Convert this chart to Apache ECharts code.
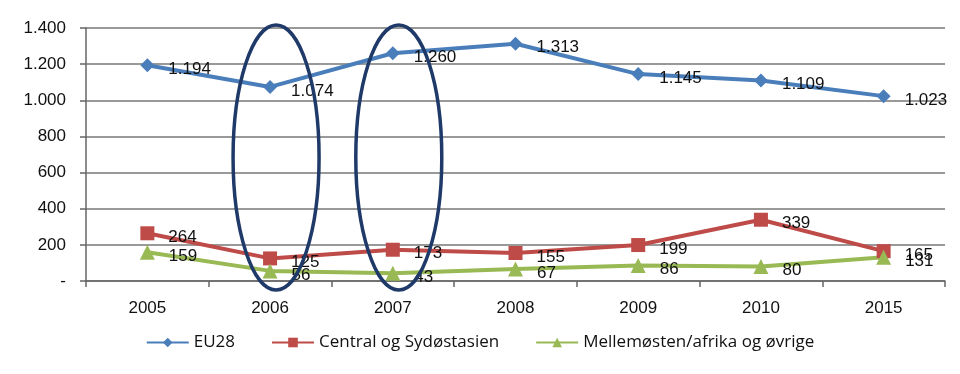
<!DOCTYPE html>
<html><head><meta charset="utf-8">
<script src="https://cdn.jsdelivr.net/npm/echarts@6/dist/echarts.min.js"></script>
<style>html,body{margin:0;padding:0;background:#fff}#c{width:960px;height:374px}</style>
</head><body><div id="c"></div>
<script>
const categories = ['2005','2006','2007','2008','2009','2010','2015'];
const eu28 = [1194, 1074, 1260, 1313, 1145, 1109, 1023];
const central = [264, 125, 173, 155, 199, 339, 165];
const mellem = [159, 56, 43, 67, 86, 80, 131];
const seriesNames = ['EU28', 'Central og Sydøstasien', 'Mellemøsten/afrika og øvrige'];
const highlighted = ['2006', '2007'];

function fmt(v){
  if (v === 0) return '-';
  return String(v).replace(/\B(?=(\d{3})+(?!\d))/g, '.');
}
const chart = echarts.init(document.getElementById('c'), null, {renderer:'canvas'});
const labelCfg = {show:true, position:'right', distance:14, offset:[0,4], color:'#111', fontSize:17, fontFamily:'Liberation Sans', formatter:p=>fmt(p.value)};
const option = {
  animation:false,
  color:['#4A7EBB','#BE4B48','#98B954'],
  grid:{left:86, right:15, top:28, bottom:93},
  legend:{bottom:18, left:'center', itemWidth:42, itemHeight:12, itemGap:36,
    textStyle:{fontSize:17, color:'#111', fontFamily:'Open Sans'},
    data:seriesNames},
  xAxis:{type:'category', data:categories, boundaryGap:true,
    axisLine:{lineStyle:{color:'#666', width:1.5}},
    axisTick:{show:true, length:6, lineStyle:{color:'#666', width:1.5}},
    axisLabel:{color:'#111', fontSize:17, margin:19, fontFamily:'Liberation Sans'}},
  yAxis:{type:'value', min:0, max:1400, interval:200,
    axisLine:{show:true, lineStyle:{color:'#666', width:1.5}},
    axisTick:{show:true, length:6, lineStyle:{color:'#666', width:1.5}},
    splitLine:{lineStyle:{color:'#777', width:1.5}},
    axisLabel:{color:'#111', fontSize:17, margin:20, fontFamily:'Liberation Sans', formatter:fmt}},
  series:[
    {name:seriesNames[0], type:'line', data:eu28, symbol:'diamond', symbolSize:14, lineStyle:{width:4}, label:labelCfg},
    {name:seriesNames[1], type:'line', data:central, symbol:'rect', symbolSize:14, lineStyle:{width:4}, label:labelCfg},
    {name:seriesNames[2], type:'line', data:mellem, symbol:'triangle', symbolSize:15, lineStyle:{width:4}, label:labelCfg}
  ]
};
chart.setOption(option);
const yTop = chart.convertToPixel({yAxisIndex:0}, 1400);
const yBot = chart.convertToPixel({yAxisIndex:0}, 0);
const graphics = highlighted.map(c=>{
  const cx = chart.convertToPixel({xAxisIndex:0}, c) + 6;
  return {type:'ellipse', z:100, shape:{cx:cx, cy:(yTop+yBot)/2 + 3, rx:43, ry:(yBot-yTop)/2 + 6},
    style:{fill:'none', stroke:'#1F3A68', lineWidth:3.5}};
});
chart.setOption({graphic:graphics});
</script></body></html>
